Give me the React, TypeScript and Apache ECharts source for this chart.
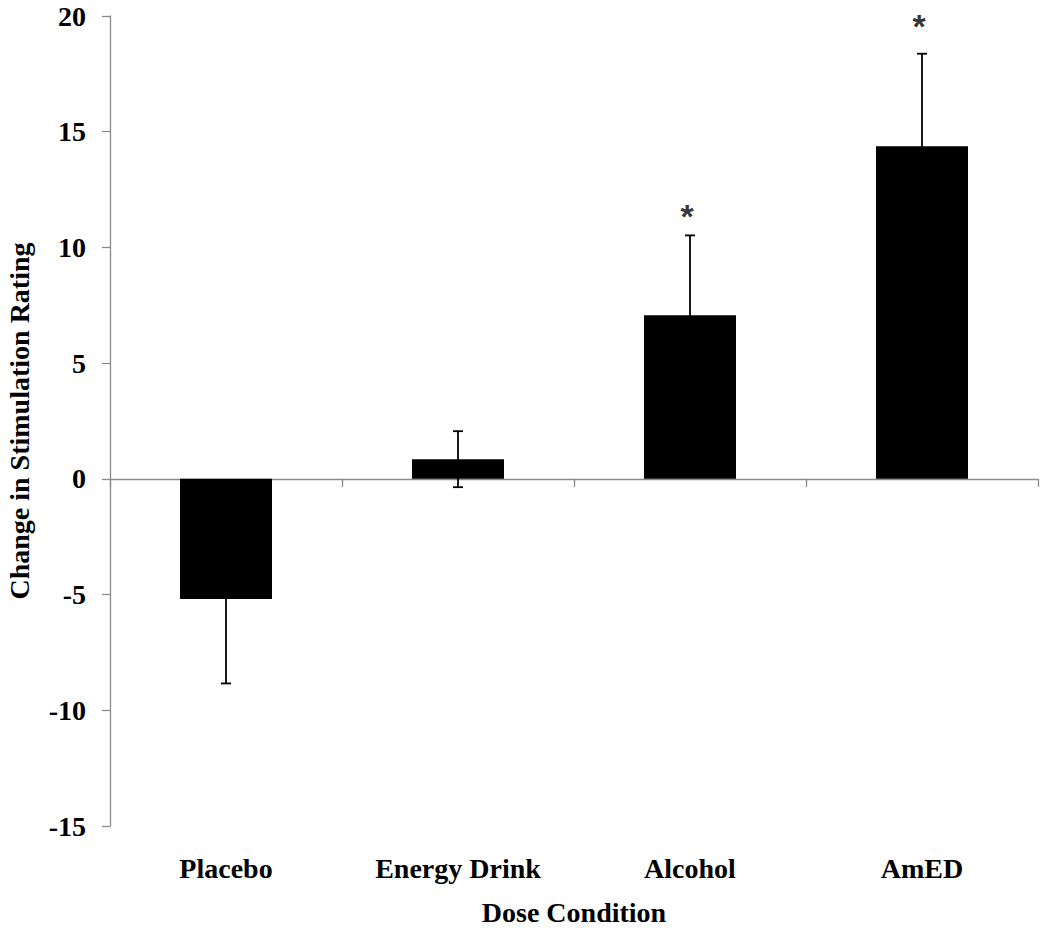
import React, { useEffect, useRef } from "react";
import * as echarts from "echarts";

const categories = ["Placebo", "Energy Drink", "Alcohol", "AmED"];
const means = [-5.19, 0.85, 7.07, 14.37];
const errors = [3.65, 1.21, 3.45, 4.0];
const starPoints: [number, number][] = [
  [2, 11.5],
  [3, 19.7],
];
const yTicks = { min: -15, max: 20, interval: 5 };

const FONT = "'Liberation Serif', 'Times New Roman', serif";

export default function App() {
  const ref = useRef<HTMLDivElement>(null);
  useEffect(() => {
    if (!ref.current) return;
    const chart = echarts.init(ref.current, undefined, { renderer: "svg" });
    const errData = means.map((m, i) => [i, m - errors[i], m + errors[i]]);
    chart.setOption({
      animation: false,
      backgroundColor: "#ffffff",
      grid: {
        left: 110,
        right: 12,
        top: 16,
        bottom: 107,
        containLabel: false,
        outerBoundsMode: "none",
      },
      xAxis: {
        type: "category",
        data: categories,
        position: "bottom",
        axisLine: { show: true, onZero: true, lineStyle: { color: "#8a8a8a", width: 1.3 } },
        axisTick: { show: true, length: 8, lineStyle: { color: "#8a8a8a", width: 1.3 } },
        axisLabel: {
          margin: 28,
          color: "#000",
          fontFamily: FONT,
          fontWeight: "bold",
          fontSize: 28,
        },
        name: "Dose Condition",
        nameLocation: "middle",
        nameGap: 72,
        nameTextStyle: {
          color: "#000",
          fontFamily: FONT,
          fontWeight: "bold",
          fontSize: 28,
        },
      },
      yAxis: {
        type: "value",
        min: yTicks.min,
        max: yTicks.max,
        interval: yTicks.interval,
        axisLine: { show: true, onZero: false, lineStyle: { color: "#8a8a8a", width: 1.3 } },
        axisTick: { show: true, length: 8, lineStyle: { color: "#8a8a8a", width: 1.3 } },
        splitLine: { show: false },
        axisLabel: {
          margin: 24,
          color: "#000",
          fontFamily: FONT,
          fontWeight: "bold",
          fontSize: 28,
        },
        name: "Change in Stimulation Rating",
        nameLocation: "middle",
        nameRotate: 90,
        nameGap: 77,
        nameTextStyle: {
          color: "#000",
          fontFamily: FONT,
          fontWeight: "bold",
          fontSize: 28,
        },
      },
      series: [
        {
          type: "bar",
          data: means,
          barWidth: 92,
          itemStyle: { color: "#000" },
        },
        {
          type: "custom",
          data: errData,
          encode: { x: 0, y: [1, 2] },
          z: 5,
          renderItem: (params: any, api: any) => {
            const i = api.value(0);
            const lo = api.coord([i, api.value(1)]);
            const hi = api.coord([i, api.value(2)]);
            const hw = 5;
            const style = { stroke: "#000", lineWidth: 1.8 };
            return {
              type: "group",
              children: [
                { type: "line", shape: { x1: lo[0], y1: lo[1], x2: hi[0], y2: hi[1] }, style },
                { type: "line", shape: { x1: hi[0] - hw, y1: hi[1], x2: hi[0] + hw, y2: hi[1] }, style },
                { type: "line", shape: { x1: lo[0] - hw, y1: lo[1], x2: lo[0] + hw, y2: lo[1] }, style },
              ],
            };
          },
        },
        {
          type: "scatter",
          data: starPoints,
          symbolSize: 1,
          itemStyle: { color: "rgba(0,0,0,0)" },
          label: {
            show: true,
            position: "inside",
            formatter: "*",
            color: "#000",
            fontFamily: "'Liberation Sans', Arial, sans-serif",
            fontWeight: "bold",
            fontSize: 34,
            offset: [-3, 3],
          },
          z: 6,
        },
      ],
    });
    return () => chart.dispose();
  }, []);
  return (
    <div
      ref={ref}
      style={{ position: "absolute", left: 0, top: 0, width: 1050, height: 933, background: "#fff" }}
    />
  );
}
